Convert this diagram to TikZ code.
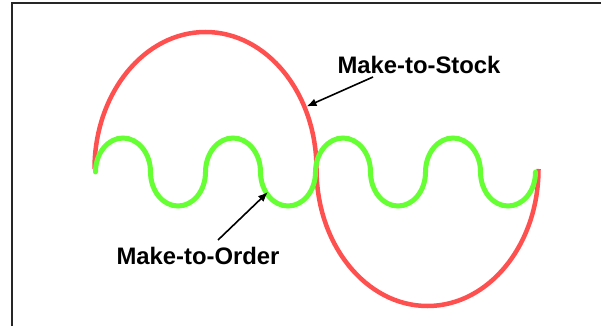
\documentclass[tikz,border=0pt]{standalone}
\usepackage{fontspec}
\setmainfont{Liberation Sans}
\usetikzlibrary{arrows.meta}
\definecolor{mtsred}{RGB}{255,80,80}
\definecolor{mtogreen}{RGB}{102,255,51}
\tikzset{
  frame/.style={line width=2pt, draw=black!85},
  stockcurve/.style={draw=mtsred, line width=4.5pt},
  ordercurve/.style={draw=mtogreen, line width=5pt, line cap=round},
  label/.style={font=\fontsize{23.85}{28}\selectfont\bfseries, inner sep=0pt, anchor=base},
  pointer/.style={line width=1.6pt, -{Latex[length=10pt,width=8pt]}}
}
\begin{document}
\begin{tikzpicture}[x=1pt,y=1pt]
  \useasboundingbox (0,0) rectangle (601,326);
  % frame edges
  \draw[frame] (12,0) -- (12,323) -- (601,323);
  % make-to-stock: one large wave
  \draw[stockcurve] (94.5,157)
    arc[start angle=180, end angle=0, x radius=111pt, y radius=137pt]
    arc[start angle=180, end angle=360, x radius=111pt, y radius=137pt];
  % make-to-order: four small waves
  \draw[ordercurve] (95.5,154)
    \foreach \k in {1,...,4}{
      arc[start angle=180, end angle=0, x radius=27.5pt, y radius=34pt]
      arc[start angle=180, end angle=360, x radius=27.5pt, y radius=34pt]
    };
  % labels
  \node[label] (stock) at (419,252.7) {Make-to-Stock};
  \node[label] (order) at (198,61) {Make-to-Order};
  % pointer ends
  \coordinate (stockfrom) at (373,249);
  \coordinate (stockto) at (306.5,219.5);
  \coordinate (orderfrom) at (218,86);
  \coordinate (orderto) at (268,134);
  \draw[pointer] (stockfrom) -- (stockto);
  \draw[pointer] (orderfrom) -- (orderto);
\end{tikzpicture}
\end{document}
